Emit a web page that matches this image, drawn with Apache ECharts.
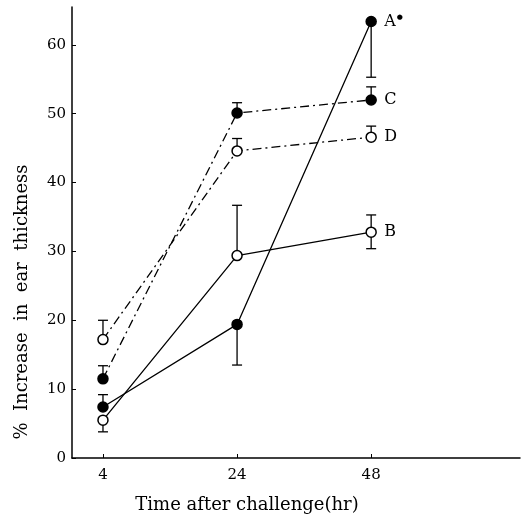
<!DOCTYPE html>
<html>
<head>
<meta charset="utf-8">
<script src="https://cdn.jsdelivr.net/npm/echarts@6/dist/echarts.min.js"></script>
<style>
html, body { margin: 0; padding: 0; background: #fff; }
#main { width: 527px; height: 520px; }
</style>
</head>
<body>
<div id="main"></div>
<script>
// time points (hr), drawn equally spaced
var timeLabels = ['4', '24', '48'];
var yTicks = [0, 10, 20, 30, 40, 50, 60];

// mean % increase in ear thickness
var groupA = [7.4, 19.4, 63.4];
var groupB = [5.5, 29.4, 32.8];
var groupC = [11.5, 50.1, 52.0];
var groupD = [17.2, 44.6, 46.6];

// error bar ranges [low, high]
var errA = [[7.4, 9.2], [13.5, 19.4], [55.3, 63.4]];
var errB = [[3.8, 5.5], [29.4, 36.7], [30.4, 35.3]];
var errC = [[11.5, 13.4], [50.1, 51.6], [52.0, 53.9]];
var errD = [[17.2, 20.0], [44.6, 46.4], [46.6, 48.2]];

var serif = 'DejaVu Serif';

function pts(vals) {
    return vals.map(function (v, i) { return [i, v]; });
}
function errPts(ranges) {
    return ranges.map(function (r, i) { return [i, r[0], r[1]]; });
}

function errSeries(ranges) {
    return {
        type: 'custom',
        z: 1,
        silent: true,
        renderItem: function (params, api) {
            var x = api.value(0);
            var p1 = api.coord([x, api.value(1)]);
            var p2 = api.coord([x, api.value(2)]);
            var w = 5;
            var st = { stroke: '#000', lineWidth: 1.3 };
            return {
                type: 'group',
                children: [
                    { type: 'line', shape: { x1: p1[0], y1: p1[1], x2: p2[0], y2: p2[1] }, style: st },
                    { type: 'line', shape: { x1: p1[0] - w, y1: p1[1], x2: p1[0] + w, y2: p1[1] }, style: st },
                    { type: 'line', shape: { x1: p2[0] - w, y1: p2[1], x2: p2[0] + w, y2: p2[1] }, style: st }
                ]
            };
        },
        data: errPts(ranges)
    };
}

function lineSeries(name, vals, filled, dashed, labelText) {
    return {
        name: name,
        type: 'line',
        z: 3,
        data: pts(vals),
        symbol: 'circle',
        symbolSize: 10,
        itemStyle: { color: filled ? '#000' : '#fff', borderColor: '#000', borderWidth: 1.5 },
        lineStyle: { color: '#000', width: 1.3, type: dashed ? [9, 4, 2, 4] : 'solid' },
        endLabel: {
            show: true,
            distance: 13,
            formatter: labelText,
            fontFamily: serif,
            fontSize: 16,
            color: '#000',
            rich: { s: { fontSize: 7, verticalAlign: 'top', padding: [0, 0, 6, 1], fontFamily: serif } }
        }
    };
}

var chart = echarts.init(document.getElementById('main'));
var option = {
    animation: false,
    grid: { left: 72, right: 7, top: 7, bottom: 62 },
    xAxis: {
        type: 'value',
        min: -0.231,
        max: 3.11,
        splitLine: { show: false },
        axisLine: { onZero: false, lineStyle: { color: '#000', width: 1.5 } },
        axisTick: { inside: true, length: 4, customValues: [0, 1, 2], lineStyle: { color: '#000' } },
        axisLabel: {
            customValues: [0, 1, 2],
            formatter: function (v) { return timeLabels[Math.round(v)]; },
            fontFamily: serif, fontSize: 15, color: '#000', margin: 10
        }
    },
    yAxis: {
        type: 'value',
        min: 0,
        max: 65.5,
        interval: 10,
        splitLine: { show: false },
        axisLine: { show: true, onZero: false, lineStyle: { color: '#000', width: 1.5 } },
        axisTick: { show: true, inside: true, length: 4, customValues: yTicks, lineStyle: { color: '#000' } },
        axisLabel: { customValues: yTicks, fontFamily: serif, fontSize: 15, color: '#000', margin: 6 }
    },
    graphic: [
        {
            type: 'text',
            x: 22, y: 302,
            rotation: Math.PI / 2,
            style: {
                text: '%  Increase  in  ear  thickness',
                fontFamily: serif, fontSize: 18, fill: '#000',
                textAlign: 'center', textVerticalAlign: 'middle'
            }
        },
        {
            type: 'text',
            x: 247, y: 505,
            style: {
                text: 'Time after challenge(hr)',
                fontFamily: serif, fontSize: 18, fill: '#000',
                textAlign: 'center', textVerticalAlign: 'middle'
            }
        }
    ],
    series: [
        errSeries(errA), errSeries(errB), errSeries(errC), errSeries(errD),
        lineSeries('A', groupA, true, false, 'A{s|●}'),
        lineSeries('B', groupB, false, false, 'B'),
        lineSeries('C', groupC, true, true, 'C'),
        lineSeries('D', groupD, false, true, 'D')
    ]
};
chart.setOption(option);
</script>
</body>
</html>
